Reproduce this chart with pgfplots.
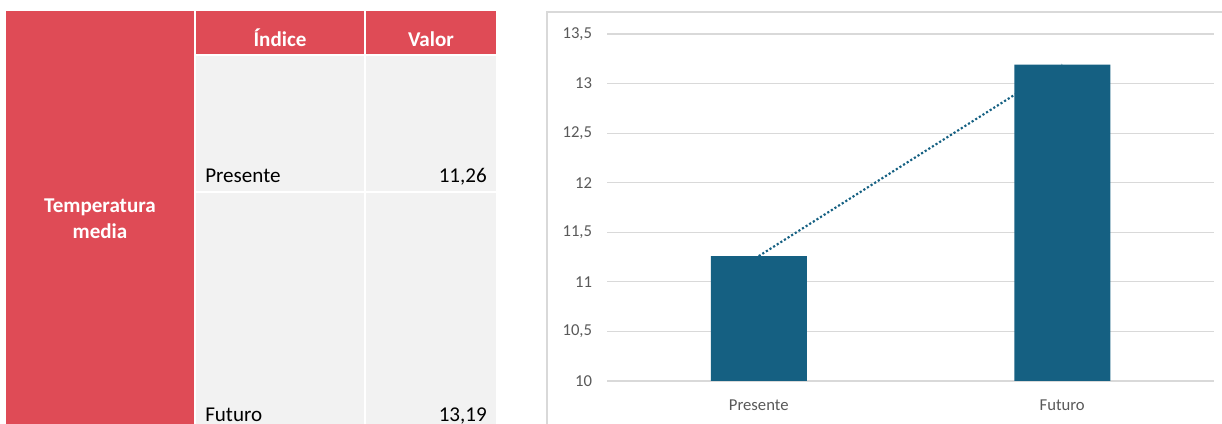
\documentclass[border=0pt]{standalone}
\usepackage{fontspec}
\setmainfont{Carlito}
\usepackage{pgfplots}
\pgfplotsset{compat=1.18}
\definecolor{tred}{HTML}{DF4B56}
\definecolor{tgray}{HTML}{F2F2F2}
\definecolor{barc}{HTML}{156082}
\definecolor{gridc}{HTML}{D9D9D9}
\definecolor{tickc}{HTML}{595959}
\begin{document}
\begin{tikzpicture}
\path[use as bounding box] (0,0) rectangle (916.5pt,318pt);
\begin{scope}[x=0.75pt,y=-0.75pt,shift={(0,318pt)}]
\fill[tred] (6,11) rectangle (194,424);
\fill[tred] (196,11) rectangle (364,54);
\fill[tred] (366,11) rectangle (496,54);
\fill[tgray] (196,56) rectangle (364,191);
\fill[tgray] (366,56) rectangle (496,191);
\fill[tgray] (196,193) rectangle (364,424);
\fill[tgray] (366,193) rectangle (496,424);
\tikzset{hd/.style={anchor=base, text=white, font=\bfseries\fontsize{15.8}{19}\selectfont, inner sep=0pt},
         cl/.style={text=black, font=\fontsize{15.8}{19}\selectfont, inner sep=0pt}}
\node[hd] at (280,47) {Índice};
\node[hd] at (431,47) {Valor};
\node[hd] at (100,213) {Temperatura};
\node[hd] at (100,239) {media};
\node[cl, anchor=base west] at (205,183) {Presente};
\node[cl, anchor=base east] at (487,183) {11,26};
\node[cl, anchor=base west] at (205,422) {Futuro};
\node[cl, anchor=base east] at (487,422) {13,19};
\draw[gridc, line width=0.9pt] (547,440) -- (547,12) -- (1240,12);
\end{scope}
\begin{axis}[
  at={(455.25pt,32.25pt)}, anchor=south west,
  scale only axis, width=455.25pt, height=260.25pt,
  xmin=-0.5, xmax=1.5, ymin=10, ymax=13.5,
  axis line style={draw=none},
  major tick length=0pt,
  xtick={0,1}, xticklabels={Presente,Futuro},
  ytick={10,10.5,11,11.5,12,12.5,13,13.5},
  ymajorgrids, grid style={gridc, line width=0.9pt},
  /pgf/number format/assume math mode=true,
  /pgf/number format/use comma,
  /pgf/number format/1000 sep={},
  tick label style={text=tickc, font=\fontsize{12.5}{15}\selectfont},
  yticklabel style={anchor=east, inner sep=0pt, xshift=-11pt},
  xticklabel style={anchor=center, inner sep=0pt, yshift=-18pt},
]
\addplot[barc, line width=1.6pt, dash pattern=on 1.6pt off 1.6pt, mark=none] coordinates {(0,11.26) (1,13.19)};
\addplot[ybar, bar width=72pt, fill=barc, draw=none] coordinates {(0,11.26) (1,13.19)};
\end{axis}
\end{tikzpicture}
\end{document}
